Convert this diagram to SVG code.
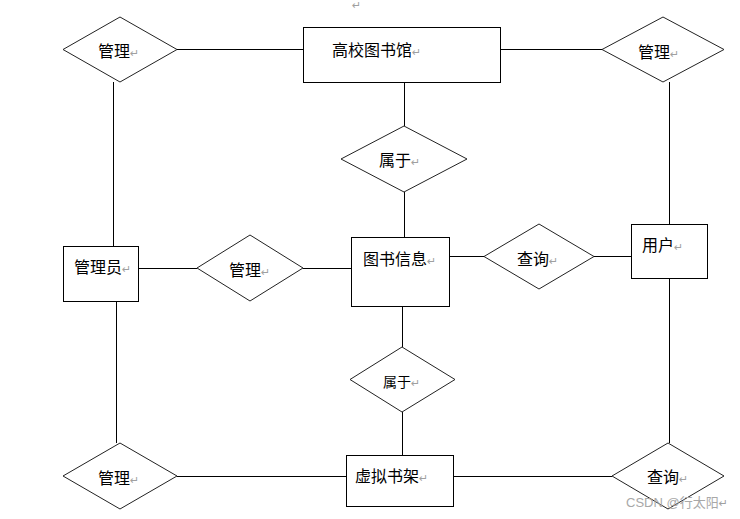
<svg xmlns="http://www.w3.org/2000/svg" width="740" height="519" viewBox="0 0 740 519">
<style>
.ent{fill:#fff;stroke:#000;stroke-width:1}
.rel{fill:#fff;stroke:#222;stroke-width:1}
.con line{stroke:#000;stroke-width:1}
.t{font-family:"Noto Sans CJK SC","Noto Sans",sans-serif;font-size:16px;fill:#000}
.s{font-size:14px}
.m{font-family:"DejaVu Sans",sans-serif;font-size:11px;fill:#a0a0a0}
.wm{font-family:"Liberation Sans","Noto Sans CJK SC",sans-serif;font-size:13px;fill:#a8a8a8}
</style>
<rect width="740" height="519" fill="#fff"/>
<text class="m" x="352" y="9" font-size="9px">↵</text>
<g id="connectors" class="con">
<line x1="177" y1="49.5" x2="303" y2="49.5"/>
<line x1="500" y1="49.5" x2="602" y2="49.5"/>
<line x1="113.5" y1="82" x2="113.5" y2="246"/>
<line x1="669.5" y1="82" x2="669.5" y2="224"/>
<line x1="404.5" y1="82" x2="404.5" y2="126"/>
<line x1="404.5" y1="192" x2="404.5" y2="237"/>
<line x1="138" y1="268.5" x2="197" y2="268.5"/>
<line x1="303" y1="268.5" x2="351" y2="268.5"/>
<line x1="449" y1="256.5" x2="484" y2="256.5"/>
<line x1="594" y1="256.5" x2="631" y2="256.5"/>
<line x1="116.5" y1="301" x2="116.5" y2="443"/>
<line x1="402.5" y1="306" x2="402.5" y2="347"/>
<line x1="402.5" y1="412" x2="402.5" y2="455"/>
<line x1="177" y1="476.5" x2="346" y2="476.5"/>
<line x1="453" y1="476.5" x2="612" y2="476.5"/>
<line x1="669.5" y1="278" x2="669.5" y2="443"/>
</g>
<g id="library">
<rect class="ent" x="303.5" y="27.5" width="197" height="55"/>
<text class="t" x="332" y="56">高校图书馆<tspan class="m">↵</tspan></text>
</g>
<g id="admin">
<rect class="ent" x="63.5" y="246.5" width="75" height="55"/>
<text class="t" x="74" y="273">管理员<tspan class="m">↵</tspan></text>
</g>
<g id="bookinfo">
<rect class="ent" x="351.5" y="237.5" width="98" height="69"/>
<text class="t" x="363" y="265">图书信息<tspan class="m">↵</tspan></text>
</g>
<g id="user">
<rect class="ent" x="631.5" y="224.5" width="76" height="54"/>
<text class="t" x="642" y="251">用户<tspan class="m">↵</tspan></text>
</g>
<g id="shelf">
<rect class="ent" x="346.5" y="455.5" width="107" height="51"/>
<text class="t" x="355" y="482">虚拟书架<tspan class="m">↵</tspan></text>
</g>
<g id="manage-tl">
<polygon class="rel" points="63,49.5 120,17 177,49.5 120,82"/>
<text class="t" x="98" y="57">管理<tspan class="m">↵</tspan></text>
</g>
<g id="manage-tr">
<polygon class="rel" points="602,49.5 663,17 724,49.5 663,82"/>
<text class="t" x="638" y="58">管理<tspan class="m">↵</tspan></text>
</g>
<g id="belong-top">
<polygon class="rel" points="341,159 404,126 467,159 404,192"/>
<text class="t" x="379" y="166">属于<tspan class="m">↵</tspan></text>
</g>
<g id="manage-mid">
<polygon class="rel" points="197,268 250,235 303,268 250,301"/>
<text class="t" x="229" y="276">管理<tspan class="m">↵</tspan></text>
</g>
<g id="query-mid">
<polygon class="rel" points="484,256.5 539,224 594,256.5 539,289"/>
<text class="t" x="517" y="265">查询<tspan class="m">↵</tspan></text>
</g>
<g id="belong-bottom">
<polygon class="rel" points="350,379.5 402,347 455,379.5 402,412"/>
<text class="t s" x="383" y="387">属于<tspan class="m">↵</tspan></text>
</g>
<g id="manage-bl">
<polygon class="rel" points="63,476 120,443 177,476 120,509"/>
<text class="t" x="98" y="484">管理<tspan class="m">↵</tspan></text>
</g>
<g id="query-br">
<polygon class="rel" points="612,476 668,443 724,476 668,509"/>
<text class="t" x="647" y="483">查询<tspan class="m">↵</tspan></text>
</g>
<text class="wm" x="626" y="507">CSDN @行太阳<tspan class="m" fill="#888">↵</tspan></text>
</svg>
